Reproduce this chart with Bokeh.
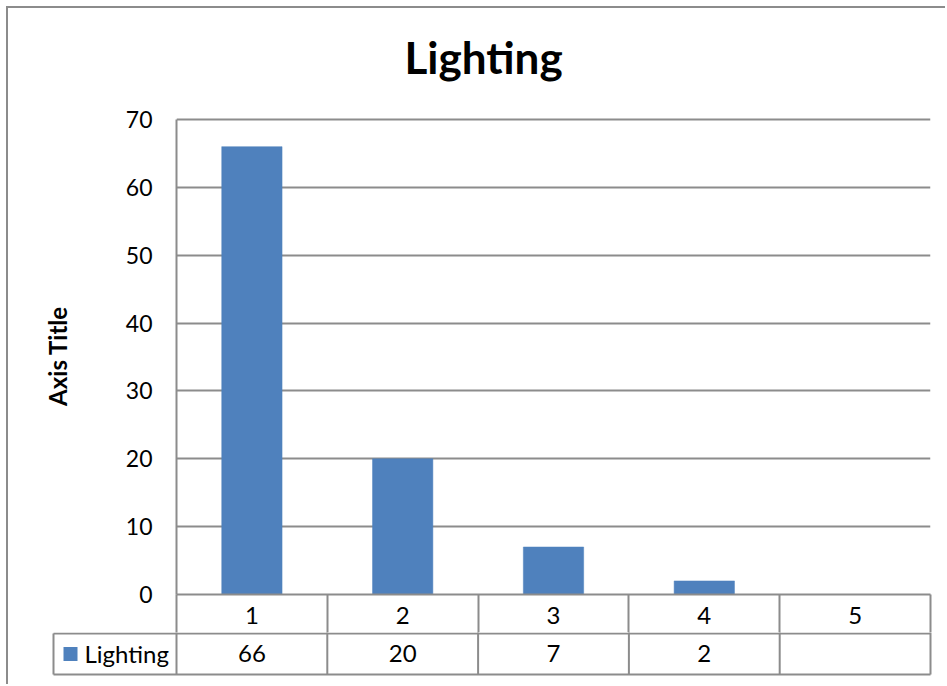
from bokeh.plotting import figure
from bokeh.models import Range1d, FixedTicker, LinearAxis, Title
from bokeh.embed import file_html
from bokeh.resources import INLINE
from bokeh.core.properties import value

# ---- data -------------------------------------------------------------
categories = [1, 2, 3, 4, 5]
category_labels = ["1", "2", "3", "4", "5"]
lighting = [66, 20, 7, 2, None]          # category 5 has no value
y_ticks = [0, 10, 20, 30, 40, 50, 60, 70]
series_name = "Lighting"
chart_title = "Lighting"
y_axis_title = "Axis Title"

# ---- styling ----------------------------------------------------------
FONT = "Lato"
BAR_COLOR = "#4F81BD"
LINE_GRAY = "#8c8c8c"
BORDER_CSS = "2px solid #8c8c8c"
PAGE_W = 947
EDGE = 8                                  # chart-area border offset (margin + border)
CANVAS_W = PAGE_W - EDGE
PLOT_LEFT, PLOT_RIGHT = 176, 930          # plot frame, page pixels
PX_PER_CAT = (PLOT_RIGHT - PLOT_LEFT) / len(categories)
LEGEND_CELL_PX = 123                      # width of the series-name cell
HEADER_ROW_PX = 40                        # height of the category row under the axis

x_lo = categories[0] - 0.5
x_hi = categories[-1] + 0.5
cell_edges = [c - 0.5 for c in categories] + [categories[-1] + 0.5]

# ---- column chart with the header row of the data table ---------------
p = figure(
    width=CANVAS_W, height=634 - EDGE,
    x_range=Range1d(x_lo, x_hi),
    y_range=Range1d(0, 70.295),
    x_axis_location=None,
    output_backend="svg", toolbar_location=None,
    min_border_left=PLOT_LEFT - EDGE, min_border_right=PAGE_W - PLOT_RIGHT,
    min_border_top=117 - EDGE, min_border_bottom=HEADER_ROW_PX,
    margin=(6, 0, 0, 6),
    styles={"border-left": BORDER_CSS, "border-top": BORDER_CSS},
)
p.outline_line_color = None
p.background_fill_color = "white"
p.border_fill_color = "white"

# blank gap between the plot area and the chart title
p.add_layout(Title(text=" ", text_font_size="1px", standoff=32), "above")

p.title.text = chart_title
p.title.text_font = FONT
p.title.text_font_size = "44px"
p.title.text_font_style = "bold"
p.title.text_color = "black"
p.title.align = "left"
p.title.offset = 228
p.title.standoff = 0

yaxis = p.yaxis[0]
yaxis.ticker = FixedTicker(ticks=y_ticks)
yaxis.bounds = (y_ticks[0], y_ticks[-1])
yaxis.axis_line_color = LINE_GRAY
yaxis.axis_line_width = 2
yaxis.major_tick_line_color = None
yaxis.minor_tick_line_color = None
yaxis.major_tick_out = 0
yaxis.major_tick_in = 0
yaxis.major_label_standoff = 24
yaxis.major_label_text_font = FONT
yaxis.major_label_text_font_size = "23px"
yaxis.major_label_text_color = "black"
yaxis.axis_label = y_axis_title
yaxis.axis_label_text_font = FONT
yaxis.axis_label_text_font_size = "24px"
yaxis.axis_label_text_font_style = "bold"
yaxis.axis_label_text_color = "black"
yaxis.axis_label_standoff = 51

# category axis: labels at the centres, cell separators as minor ticks
# (labels are pulled back up into the header row with a negative standoff)
xaxis = LinearAxis(ticker=FixedTicker(ticks=categories, minor_ticks=cell_edges))
xaxis.major_label_overrides = {c: lab for c, lab in zip(categories, category_labels)}
xaxis.axis_line_color = LINE_GRAY
xaxis.axis_line_width = 2
xaxis.major_tick_line_color = None
xaxis.major_tick_out = 0
xaxis.major_tick_in = 0
xaxis.minor_tick_line_color = LINE_GRAY
xaxis.minor_tick_line_width = 2
xaxis.minor_tick_out = HEADER_ROW_PX
xaxis.minor_tick_in = 0
xaxis.major_label_standoff = -28
xaxis.major_label_text_font = FONT
xaxis.major_label_text_font_size = "24px"
xaxis.major_label_text_color = "black"
p.add_layout(xaxis, "below")

p.ygrid.ticker = FixedTicker(ticks=y_ticks)
p.ygrid.grid_line_color = LINE_GRAY
p.ygrid.grid_line_width = 2
p.xgrid.grid_line_color = None

bar_vals = [v if v is not None else float("nan") for v in lighting]
p.vbar(x=categories, top=bar_vals, bottom=0, width=0.4,
       fill_color=BAR_COLOR, line_color=BAR_COLOR, line_width=0.5)

# ---- value row of the data table --------------------------------------
legend_left = x_lo - LEGEND_CELL_PX / PX_PER_CAT
t = figure(
    width=CANVAS_W, height=686 - 634,
    x_range=Range1d(x_lo - (PLOT_LEFT - EDGE) / PX_PER_CAT,
                    x_hi + (PAGE_W - PLOT_RIGHT) / PX_PER_CAT),
    y_range=Range1d(-0.244, 1.024),
    x_axis_location=None, y_axis_location=None,
    output_backend="svg", toolbar_location=None,
    min_border=0,
    margin=(0, 0, 0, 6),
    styles={"border-left": BORDER_CSS},
)
t.outline_line_color = None
t.xgrid.visible = False
t.ygrid.visible = False

# top and bottom rules of the row
t.segment(x0=[legend_left, legend_left], x1=[x_hi, x_hi], y0=[0, 1], y1=[0, 1],
          line_color=LINE_GRAY, line_width=2)
# column separators
t.segment(x0=cell_edges, x1=cell_edges, y0=[0] * len(cell_edges), y1=[1.1] * len(cell_edges),
          line_color=LINE_GRAY, line_width=2)
# left edge of the series-name cell
t.segment(x0=[legend_left], x1=[legend_left], y0=[0], y1=[1],
          line_color=LINE_GRAY, line_width=2)

value_labels = ["" if v is None else str(v) for v in lighting]
t.text(x=categories, y=[0.5] * len(categories), text=value_labels,
       text_align="center", text_baseline="middle",
       text_font=value(FONT), text_font_size="24px", text_color="black")

# legend key + series name
t.rect(x=[legend_left + 17 / PX_PER_CAT], y=[0.5], width=14, height=14,
       width_units="screen", height_units="screen",
       fill_color=BAR_COLOR, line_color=None)
t.text(x=[legend_left], y=[0.5], text=[series_name], x_offset=31,
       text_align="left", text_baseline="middle",
       text_font=value(FONT), text_font_size="24px", text_color="black")

open("out.html", "w").write(file_html([p, t], INLINE))
